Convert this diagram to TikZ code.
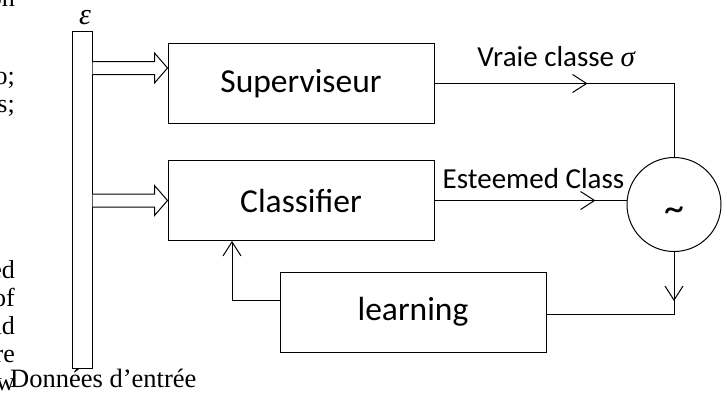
\documentclass[tikz,border=0pt]{standalone}
\usepackage{fontspec}
\setmainfont{Liberation Serif}
\newfontfamily\calibri{Carlito}
\usepackage{tikz}
\usetikzlibrary{positioning,arrows.meta,calc,decorations.markings}
\tikzset{
block/.style={
draw,
line width=1pt,
minimum width=266pt,
minimum height=80pt,
align=center,
font=\calibri\fontsize{33.5}{40}\selectfont
},
inbar/.style={
draw,
line width=1pt,
minimum width=20pt,
minimum height=337pt
},
comparer/.style={
draw,
circle,
line width=1pt,
minimum size=94pt,
inner sep=0pt,
text height=34pt,
text depth=0pt,
font=\calibri\fontsize{40}{46}\selectfont
},
flowlabel/.style={
anchor=base,
inner sep=0pt,
font=\calibri\fontsize{29}{34}\selectfont
},
pagetext/.style={
anchor=base east,
inner sep=0pt,
font=\fontsize{26}{28}\selectfont
},
line/.style={
line width=1pt
},
arrow/.style={
line width=1pt,
-{Straight Barb[length=14pt,width=18pt]}
},
midtip/.style={
postaction={decorate},
decoration={markings,
mark=at position #1 with {\arrow{Straight Barb[length=14pt,width=18pt]}}}
},
fatarrow/.style={
draw,
line width=1pt,
fill=white
}
}
% hollow input arrow from the bar to a point
\newcommand{\inputarrow}[2]{%
\draw[fatarrow] ($(#1.east|-#2)+(0,-6.5)$) -- ($(#2)+(-13,-6.5)$) -- ($(#2)+(-13,-15)$)
 -- (#2) -- ($(#2)+(-13,15)$) -- ($(#2)+(-13,6.5)$) -- ($(#1.east|-#2)+(0,6.5)$);}

\begin{document}
\begin{tikzpicture}[x=1pt,y=-1pt]
\useasboundingbox (0,0) rectangle (724,392);
\fill[white] (0,0) rectangle (724,392);
\clip (0,0) rectangle (724,392);

% text of the page round the figure
\foreach \t/\y in {on/6,o;/84,s;/112,ed/278,of/306,nd/334,re/362,w/390}
\node[pagetext] at (15,\y) {\t};

\node[inbar](bar) at (82,199.5){};
\node[anchor=base,font=\fontsize{30}{34}\selectfont\itshape](eps) at ($(bar.north)+(3,-6)$){ε};
\node[anchor=base west,inner sep=0pt,font=\fontsize{26.5}{30}\selectfont](data) at (10,387){Données d’entrée};

\node[block](sup) at (301,83.5){Superviseur};
\node[block,below=36pt of sup](cls){Classifier};
\node[block](lrn) at (413,312){learning};
\node[comparer](cmp) at (674,204.5){\textasciitilde};

\coordinate (in1) at ($(sup.west)+(0,-15.5)$);
\coordinate (in2) at (cls.west);
\inputarrow{bar}{in1}
\inputarrow{bar}{in2}

\draw[line,midtip=153pt](sup.east) -- (cmp.north|-sup.east) -- (cmp.north);
\draw[line,midtip=161pt](cls.east) -- (cls.east-|cmp.west);
\draw[line,midtip=49pt](cmp.south) -- ($(cmp.south|-lrn.east)+(0,2)$) -- ($(lrn.east)+(0,2)$);
\draw[arrow]($(lrn.west)+(0,-12)$) -| ($(cls.south)+(-69,0)$);

\node[flowlabel](truth) at ($(sup.east)!0.5!(cmp.north|-sup.east)+(2,-17)$){Vraie classe {\rmfamily\itshape σ}};
\node[flowlabel](guess) at ($(cls.east)!0.5!(cls.east-|cmp.west)+(3,-12)$){Esteemed Class};
\end{tikzpicture}
\end{document}
